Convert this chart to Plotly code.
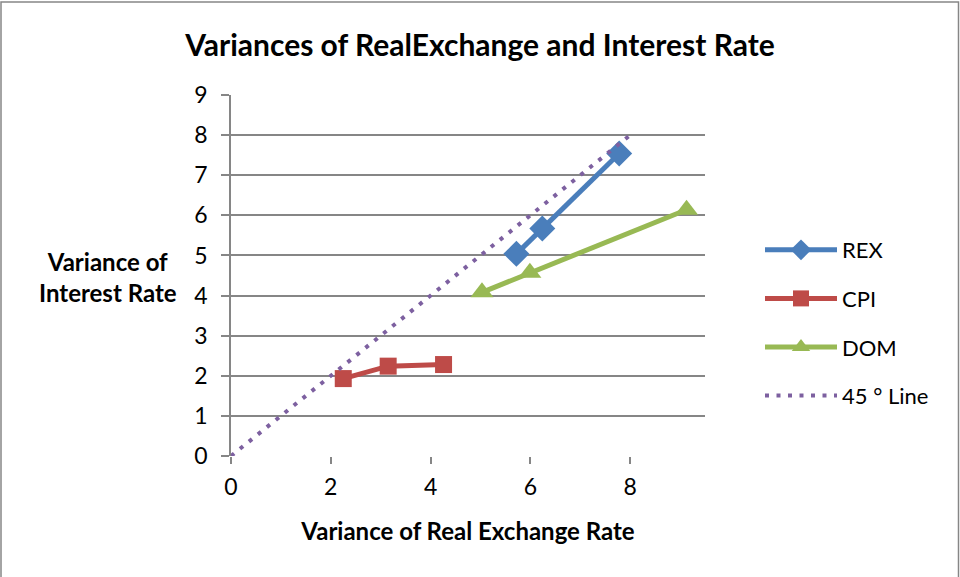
import plotly.graph_objects as go

# Data
rex_x = [5.72, 6.24, 7.78]
rex_y = [5.04, 5.67, 7.54]
cpi_x = [2.25, 3.15, 4.26]
cpi_y = [1.93, 2.24, 2.28]
dom_x = [5.03, 5.99, 9.13]
dom_y = [4.08, 4.57, 6.14]
line45_x = [0, 8]
line45_y = [0, 8]
x_ticks = [0, 2, 4, 6, 8]
y_ticks = [0, 1, 2, 3, 4, 5, 6, 7, 8, 9]

W, H = 960, 577
L, R, T, B = 231, 705, 95, 456  # plot area in px


def px_x(p):
    return (p - L) / (R - L)


def px_y(p):
    return (B - p) / (B - T)


FONT = "Lato"
GRID = "#868686"

fig = go.Figure()
fig.add_trace(go.Scatter(x=rex_x, y=rex_y, name="REX", mode="lines+markers",
                         legendgroup="a",
                         line=dict(color="#4A7EBB", width=5),
                         marker=dict(symbol="diamond", size=20, color="#4A7EBB")))
fig.add_trace(go.Scatter(x=cpi_x, y=cpi_y, name="CPI", mode="lines+markers",
                         legendgroup="b",
                         line=dict(color="#BE4B48", width=5),
                         marker=dict(symbol="square", size=17, color="#BE4B48")))
fig.add_trace(go.Scatter(x=dom_x, y=dom_y, name="DOM", mode="lines+markers",
                         legendgroup="c",
                         line=dict(color="#98B954", width=5),
                         marker=dict(symbol="triangle-up", size=20, color="#98B954")))
fig.add_trace(go.Scatter(x=line45_x, y=line45_y, name="45 ° Line", mode="lines",
                         legendgroup="d",
                         line=dict(color="#7D60A0", width=4, dash="4px,7.5px")))

fig.update_layout(
    width=W, height=H,
    margin=dict(l=L, r=W - R, t=T, b=H - B, pad=0),
    plot_bgcolor="white", paper_bgcolor="white",
    font=dict(family=FONT, color="black", size=22),
    title=dict(text="<b>Variances of RealExchange and Interest Rate</b>",
               x=0.5, xanchor="center", xref="container",
               y=1 - 45 / H, yanchor="middle", yref="container",
               font=dict(size=30, family=FONT)),
    xaxis=dict(range=[0, 9.5], tickvals=x_ticks, showgrid=False, zeroline=False,
               showline=False, ticks="outside", ticklen=7, tickcolor=GRID, tickwidth=1.5,
               tickfont=dict(size=23), ticklabelstandoff=3,
               title=dict(text="<b>Variance of Real Exchange Rate</b>", font=dict(size=24), standoff=24)),
    yaxis=dict(range=[0, 9], tickvals=y_ticks, showgrid=True, gridcolor=GRID, gridwidth=1.5,
               zeroline=False, showline=True, linecolor=GRID, linewidth=1.5,
               ticks="outside", ticklen=8, tickcolor=GRID, tickwidth=1.5,
               tickfont=dict(size=23), ticklabelstandoff=9),
    legend=dict(x=px_x(760), xanchor="left", y=px_y(229), yanchor="top",
                font=dict(size=22), itemwidth=72, tracegroupgap=17,
                bgcolor="rgba(0,0,0,0)"),
    showlegend=True,
)

fig.add_annotation(text="<b>Variance of<br>Interest Rate</b>", xref="paper", yref="paper",
                   x=px_x(108), y=px_y(277), xanchor="center", yanchor="middle",
                   showarrow=False, font=dict(size=24, family=FONT), align="center")

fig.add_shape(type="rect", xref="paper", yref="paper",
              x0=px_x(1), x1=px_x(958.5), y0=px_y(585), y1=px_y(2),
              line=dict(color=GRID, width=1.5), layer="below")

fig.write_html("out.html", config={"displayModeBar": False},
               post_script="document.body.style.margin='0px';document.body.style.overflow='hidden';")
